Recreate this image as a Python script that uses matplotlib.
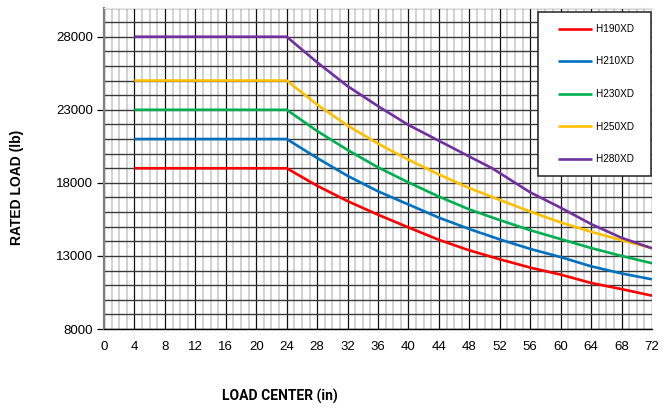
import matplotlib
matplotlib.use("Agg")
import matplotlib.pyplot as plt
from matplotlib.ticker import MultipleLocator
from matplotlib.legend_handler import HandlerLine2D
from matplotlib.lines import Line2D

BASE = ['Liberation Sans', 'DejaVu Sans']
plt.rcParams['font.family'] = BASE

load_center = [4, 24, 28, 32, 36, 40, 44, 48, 52, 56, 60, 64, 68, 72]
h190xd = [19000, 19000, 17800, 16750, 15820, 14950, 14100, 13380, 12770, 12200, 11720, 11150, 10730, 10280]
h210xd = [21000, 21000, 19700, 18480, 17420, 16520, 15620, 14840, 14130, 13480, 12920, 12290, 11800, 11400]
h230xd = [23000, 23000, 21550, 20250, 19060, 18030, 17060, 16180, 15450, 14760, 14150, 13540, 13000, 12500]
h250xd = [25000, 25000, 23350, 21920, 20680, 19580, 18570, 17640, 16830, 16030, 15290, 14650, 14070, 13540]
h280xd_x = [4, 24, 28, 32, 36, 40, 44, 48, 51, 56, 60, 64, 68, 72]
h280xd = [28000, 28000, 26250, 24620, 23250, 21960, 20880, 19800, 19000, 17350, 16300, 15180, 14240, 13520]

series_names = ['H190XD', 'H210XD', 'H230XD', 'H250XD', 'H280XD']
series_colors = ['#ff0000', '#0070c0', '#00b050', '#ffc000', '#7030a0']

x_ticks = list(range(0, 73, 4))
y_ticks = [8000, 13000, 18000, 23000, 28000]

fig = plt.figure(figsize=(6.66, 4.12), dpi=100)
ax = fig.add_axes([104/666, 1-329/412, (652-104)/666, (329-7.5)/412])

xs = [load_center, load_center, load_center, load_center, h280xd_x]
ys = [h190xd, h210xd, h230xd, h250xd, h280xd]
for x, y, name, c in zip(xs, ys, series_names, series_colors):
    ax.plot(x, y, color=c, lw=1.9, label=name + '  ', zorder=5, solid_capstyle='butt')

ax.set_xlim(0, 72)
ax.set_ylim(8000, 30000)
ax.set_xticks(x_ticks)
ax.set_xticklabels([str(t) for t in x_ticks], family=list(BASE), fontsize=9.5)
ax.set_yticks(y_ticks)
ax.set_yticklabels([str(t) for t in y_ticks], family=list(BASE), fontsize=9.5)
ax.xaxis.set_minor_locator(MultipleLocator(1))
ax.yaxis.set_minor_locator(MultipleLocator(1000))

ax.xaxis.grid(True, which='minor', color='#cfcfcf', lw=1.3, zorder=0)
ax.yaxis.grid(True, which='minor', color='#3a3a3a', lw=1.0, zorder=1)
ax.yaxis.grid(True, which='major', color='#3a3a3a', lw=1.0, zorder=1)
ax.xaxis.grid(True, which='major', color='#111111', lw=0.9, zorder=2)
ax.set_axisbelow(True)

ax.tick_params(axis='x', which='both', length=0, pad=9)
ax.tick_params(axis='y', which='major', length=5, width=0.9, color='black', pad=3)
ax.tick_params(axis='y', which='minor', length=0)

ax.spines['left'].set_color('#808080')
ax.spines['left'].set_linewidth(1.6)
ax.spines['bottom'].set_color('black')
ax.spines['bottom'].set_linewidth(1.0)
ax.spines['top'].set_color('#e6e6e6')
ax.spines['right'].set_visible(False)

leg = ax.legend(loc='upper right', bbox_to_anchor=(651/666, 1-12/412), bbox_transform=fig.transFigure,
                prop={'family': list(BASE), 'size': 7.2},
                handlelength=4.2, handletextpad=0.4, labelspacing=2.25,
                borderpad=1.2, frameon=True, fancybox=False, borderaxespad=0,
                handler_map={Line2D: HandlerLine2D(xpad=0.8)})
leg.get_frame().set_edgecolor('#222222')
leg.get_frame().set_linewidth(1.1)
leg.get_frame().set_alpha(1)
leg.set_zorder(10)

fig.text(17/666, 1-187/412, 'RATED LOAD (lb)', rotation=90, ha='center', va='center',
         fontsize=10, fontweight='bold', family=list(BASE))
xl = fig.text(280/666, 1-396/412, 'LOAD CENTER (in)', ha='center', va='center',
              fontsize=11, fontweight='bold', family=['Roboto', 'DejaVu Sans'])
fig.canvas.draw()
w = xl.get_window_extent().width
xl.set_fontsize(min(11, 11 * 116 / w))

fig.savefig('out.png', dpi=100)
